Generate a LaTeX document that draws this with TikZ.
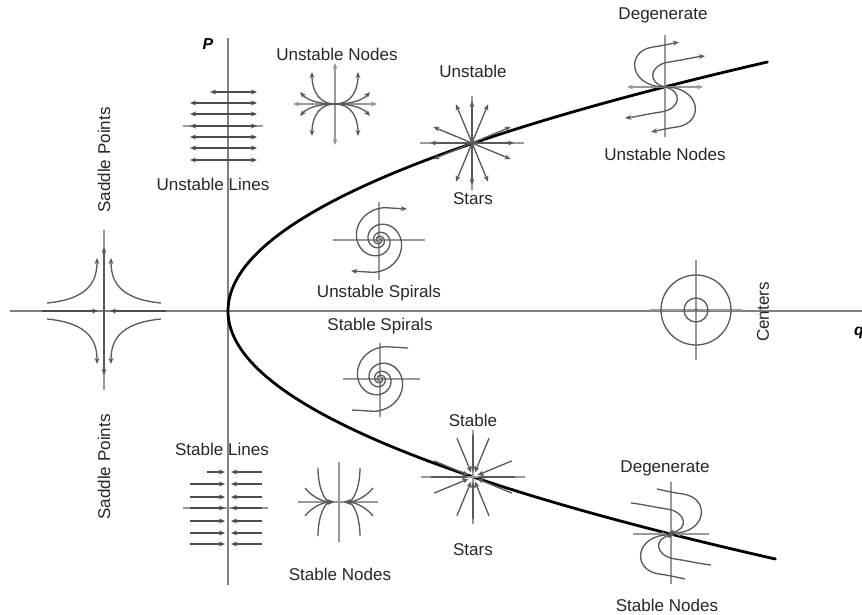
\documentclass[tikz,border=0pt]{standalone}
\usepackage{fontspec}
\setmainfont{Liberation Sans}
\usetikzlibrary{arrows.meta, positioning}

\begin{document}
\begin{tikzpicture}[
    x=0.02cm, y=-0.02cm,
    >={Stealth[length=3.5pt, width=2.8pt]},
    lbl/.style={font=\fontsize{9.7}{11}\selectfont, text=black!85, inner sep=0pt},
    axislbl/.style={font=\fontsize{9}{10}\selectfont\bfseries\itshape, inner sep=0pt},
    mainaxis/.style={draw=black!50, line width=1.1pt},
    minor/.style={draw=black!40, line width=0.6pt},
    traj/.style={draw=black!65, line width=0.75pt},
    lin/.style={draw=black!70, line width=1.3pt},
    curve/.style={draw=black, line width=1.6pt, line cap=round}
]
\useasboundingbox (0,0) rectangle (862,615);

% axes and the parabola
\coordinate (O) at (228,311);
\draw[mainaxis] (10,311) -- (862,311);
\draw[mainaxis] (228,38) -- (228,585);
\node[axislbl] (p) at (208,44) {P};
\node[axislbl] (q) at (859,333) {q};
\draw[curve] plot[domain=24.9:0, samples=60, smooth] ({228+0.87*\x*\x}, {311-10*\x})
  -- plot[domain=0:24.8, samples=60, smooth] ({228+0.89*\x*\x}, {311+10*\x});

% saddle point
\begin{scope}[shift={(104,311)}]
  \draw[minor] (0,-81) -- (0,79);
  \draw[lin,->] (-62,0) -- (-6,0);
  \draw[lin,->] (62,0) -- (6,0);
  \draw[traj,->] (0,0) -- (0,-64);
  \draw[traj,->] (0,0) -- (0,64);
  \foreach \sx in {-1,1} \foreach \sy in {-1,1}
    \draw[traj,->] ({\sx*57},{\sy*8}) .. controls ({\sx*15},{\sy*12}) and ({\sx*7},{\sy*30}) .. ({\sx*7},{\sy*53});
\end{scope}
\node[lbl, rotate=90] (saddletop) at (104,160) {Saddle Points};
\node[lbl, rotate=90] (saddlebot) at (104,467) {Saddle Points};

% lines of equilibria
\draw[minor] (183,126) -- (263,126);
\foreach \yy/\xl in {92/210,103/190,114/190,126/190,137/190,148/190,160/190}
  {\draw[lin,->] (228,\yy) -- (257,\yy); \draw[lin,->] (228,\yy) -- (\xl,\yy);}
\node[lbl] (ulines) at (213,184) {Unstable Lines};
\draw[minor] (183,508) -- (268,508);
\foreach \yy/\xl in {472/207,484/190,497/190,508/190,521/190,533/190,544/190}
  {\draw[lin,->] (262,\yy) -- (231,\yy); \draw[lin,->] (\xl,\yy) -- (225,\yy);}
\node[lbl] (slines) at (222,449) {Stable Lines};

% nodes
\begin{scope}[shift={(335,104)}]
  \draw[minor,->] (0,0) -- (0,-41);
  \draw[minor,->] (0,0) -- (0,41);
  \draw[minor,->] (0,0) -- (-42,0);
  \draw[minor,->] (0,0) -- (42,0);
  \foreach \sx in {-1,1} \foreach \sy in {-1,1} {
    \draw[traj,->] (0,0) .. controls ({\sx*15},0) and ({\sx*23},{\sy*12}) .. ({\sx*23},{\sy*32});
    \draw[traj,->] (0,0) .. controls ({\sx*14},0) and ({\sx*27},{\sy*3}) .. ({\sx*35},{\sy*12});
  }
\end{scope}
\node[lbl] (unodes) at (337,54) {Unstable Nodes};
\begin{scope}[shift={(339,502)}]
  \draw[minor] (0,-40) -- (0,40);
  \draw[minor] (-41,0) -- (39,0);
  \foreach \sx in {-1,1} \foreach \sy in {-1,1} {
    \draw[traj,->] ({\sx*21},{\sy*34}) .. controls ({\sx*21},{\sy*14}) and ({\sx*14},0) .. ({\sx*5},0);
    \draw[traj,->] ({\sx*34},{\sy*14}) .. controls ({\sx*26},{\sy*4}) and ({\sx*15},0) .. ({\sx*5},0);
  }
\end{scope}
\node[lbl] (snodes) at (340,574) {Stable Nodes};

% stars
\begin{scope}[shift={(472,143)}]
  \draw[minor] (-52,0) -- (52,0) (0,-47) -- (0,47);
  \foreach \a in {0,22.5,67.5,90,112.5,157.5,180,202.5,247.5,270,292.5,337.5}
    \draw[traj,->] (0,0) -- (\a:42);
\end{scope}
\node[lbl] (ustar) at (473,71) {Unstable};
\node[lbl] (ustars) at (473,199) {Stars};
\begin{scope}[shift={(473,477)}]
  \draw[minor] (-52,0) -- (52,0) (0,-47) -- (0,47);
  \foreach \a in {0,22.5,67.5,90,112.5,157.5,180,202.5,247.5,270,292.5,337.5}
    \draw[traj,->] (\a:42) -- (\a:5);
\end{scope}
\node[lbl] (sstar) at (473,420) {Stable};
\node[lbl] (sstars) at (473,550) {Stars};

% spirals
\begin{scope}[shift={(379,240)}]
  \draw[minor] (-46,0) -- (46,0) (0,-38) -- (0,40);
  \draw[traj,->] plot[domain=0:700, samples=120, smooth] ({2*exp(0.004*\x)*cos(\x-60)}, {2*exp(0.004*\x)*sin(\x-60)}) -- (28,-31);
  \draw[traj,->] plot[domain=0:700, samples=120, smooth] ({2*exp(0.004*\x)*cos(\x+120)}, {2*exp(0.004*\x)*sin(\x+120)}) -- (-28,31);
\end{scope}
\node[lbl] (uspiral) at (379,293) {Unstable Spirals};
\begin{scope}[shift={(380,379)}]
  \draw[minor] (-37,0) -- (40,0) (0,-36) -- (0,38);
  \draw[traj] plot[domain=0:700, samples=120, smooth] ({2*exp(0.004*\x)*cos(\x-60)}, {2*exp(0.004*\x)*sin(\x-60)}) -- (28,-31);
  \draw[traj] plot[domain=0:700, samples=120, smooth] ({2*exp(0.004*\x)*cos(\x+120)}, {2*exp(0.004*\x)*sin(\x+120)}) -- (-28,31);
\end{scope}
\node[lbl] (sspiral) at (380,326) {Stable Spirals};

% centers
\begin{scope}[shift={(696,310)}]
  \draw[minor] (-46,0) -- (46,0) (0,-50) -- (0,50);
  \draw[traj] (0,0) circle[radius=12];
  \draw[traj] (0,0) circle[radius=35];
  \fill[black!70] (0,0) circle[radius=1.5];
\end{scope}
\node[lbl, rotate=90] (centers) at (763,312) {Centers};

% degenerate nodes
\begin{scope}[shift={(665,87)}]
  \draw[minor] (0,-52) -- (0,50);
  \draw[minor,->] (0,0) -- (-38,0);
  \draw[minor,->] (0,0) -- (38,0);
  \foreach \r in {0,180} {
    \draw[traj,->,rotate=\r] (0,0) .. controls (-36,0) and (-40,-36) .. (-12,-40) .. controls (-4,-41) and (5,-43) .. (14,-45);
    \draw[traj,->,rotate=\r] (0,0) .. controls (-18,-4) and (-16,-22) .. (4,-25) .. controls (18,-27) and (30,-30) .. (40,-31);
  }
\end{scope}
\node[lbl] (udeg) at (663,15) {Degenerate};
\node[lbl] (udegn) at (665,154) {Unstable Nodes};
\begin{scope}[shift={(671,534)}, xscale=-1]
  \draw[minor] (0,-52) -- (0,50);
  \draw[minor,<-] (4,0) -- (38,0);
  \draw[minor,<-] (-4,0) -- (-38,0);
  \foreach \r in {0,180} {
    \draw[traj,<-,rotate=\r] (3,-1) .. controls (-36,0) and (-40,-36) .. (-12,-40) .. controls (-4,-41) and (5,-43) .. (14,-45);
    \draw[traj,<-,rotate=\r] (3,-1) .. controls (-18,-4) and (-16,-22) .. (4,-25) .. controls (18,-27) and (30,-30) .. (40,-31);
  }
\end{scope}
\node[lbl] (sdeg) at (665,468) {Degenerate};
\node[lbl] (sdegn) at (667,605) {Stable Nodes};

\end{tikzpicture}
\end{document}
